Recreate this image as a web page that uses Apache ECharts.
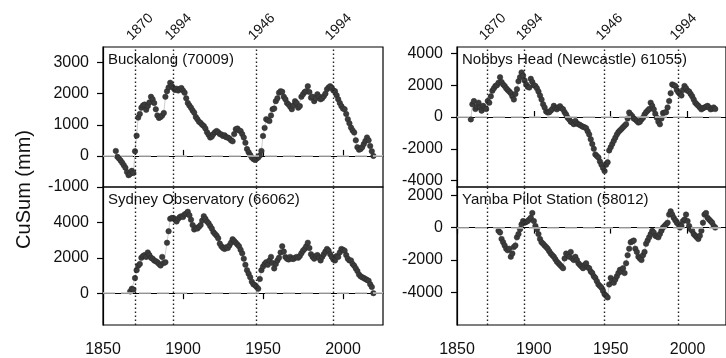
<!DOCTYPE html>
<html>
<head>
<meta charset="utf-8">
<script src="https://cdn.jsdelivr.net/npm/echarts@6/dist/echarts.min.js"></script>
<style>
html,body{margin:0;padding:0;background:#fff;}
#c{width:726px;height:358px;}
</style>
</head>
<body>
<div id="c"></div>
<script>
// Event years marked by dotted lines
const eventYears = [1870, 1894, 1946, 1994];
const xTickYears = [1850, 1900, 1950, 2000];

// Buckalong (70009), yearly CuSum from 1858
const bucStart = 1858;
const bucVals = [160,-30,-80,-150,-220,-300,-380,-520,-620,-580,-480,-550,
150,650,1230,1350,1550,1620,1650,1480,1600,1720,1900,1820,1700,1500,1300,1220,1250,1300,1380,1900,
2080,2200,2350,2250,2180,2120,2160,2100,2150,2180,2100,2030,1850,1700,1620,1550,1460,1390,1250,1180,
1100,1060,1000,960,880,760,680,590,620,700,760,800,760,700,690,640,660,600,590,560,
500,470,700,860,880,820,800,700,590,420,220,120,30,-50,-100,-130,-90,-50,10,160,
640,900,1180,1150,1120,1300,1500,1520,1760,1850,2030,2080,2060,1900,1820,1700,1650,1580,1500,1620,
1760,1700,1550,1600,1900,1980,2050,2080,2240,2050,1870,1900,1760,1850,1980,1900,1820,1850,1920,2000,
2140,2200,2240,2180,2100,2080,1950,1820,1700,1600,1520,1500,1350,1180,1050,910,820,750,500,280,
200,220,280,380,480,590,500,320,150,0];

// Sydney Observatory (66062), yearly CuSum from 1867
const sydStart = 1867;
const sydVals = [100,250,200,
850,1300,1550,1650,2000,2100,2150,2050,2300,2150,2000,1950,1850,1800,1750,1650,1560,2050,1700,1750,
2850,3500,4200,4250,4250,4150,4050,4200,4300,4350,4300,4450,4500,4600,4400,4150,3850,3600,3700,3650,
3750,3850,4100,4350,4200,4050,3950,3800,3650,3450,3350,3250,3100,2800,2650,2550,2500,2600,2550,2700,
2850,3050,2950,2850,2750,2650,2450,2250,1950,1600,1300,1100,900,650,500,450,350,250,800,1300,
1500,1650,1750,1600,1850,2050,1700,1400,1650,1850,2000,2300,2650,2350,2050,1950,1900,2050,1950,1930,
2000,2050,2000,2100,2250,2400,2500,2650,2850,2550,2200,2050,1950,2100,2150,2000,1850,2050,2200,2350,
2500,2400,2200,2050,1900,1850,2100,2050,2300,2500,2450,2400,2150,1950,1850,1850,1650,1550,1400,1250,
1050,950,900,850,800,750,700,500,350,0];

// Nobbys Head (Newcastle) 61055, yearly CuSum from 1859
const nobStart = 1859;
const nobVals = [-150,800,1000,500,650,900,600,400,700,550,500,
1000,900,1300,1650,1800,1950,2000,2150,2500,2200,2050,1950,1800,1700,1600,1500,1300,1100,1450,1750,
2250,2500,2800,2600,2300,2050,1900,1850,2400,2200,2000,1950,1800,1600,1350,1100,800,600,350,280,
300,400,500,700,550,480,600,680,550,480,300,150,-50,-150,-300,-350,-450,-250,-400,-460,
-500,-560,-620,-650,-700,-900,-1100,-1400,-1700,-2000,-2350,-2450,-2550,-2800,-3000,-3200,-3400,-3000,-2850,-2100,
-1900,-1700,-1500,-1300,-1100,-950,-850,-750,-650,-550,-450,-100,280,150,50,-100,-150,-250,-350,-300,
-150,-50,150,300,400,500,900,700,480,200,-50,-300,-460,-100,250,280,300,600,1000,1500,
2050,2000,1950,1700,1550,1450,1350,1700,1950,1800,1650,1600,1450,1300,1100,900,800,700,600,480,
550,600,650,700,600,480,520,600,500];

// Yamba Pilot Station (58012), yearly CuSum from 1877
const yamStart = 1877;
const yamVals = [-200,-300,-700,
-900,-1100,-1300,-1400,-1300,-1800,-1600,-1200,-1100,-600,
-400,-100,200,400,300,350,400,500,600,900,
400,100,-100,-400,-700,-900,-1000,-1100,-1200,-1300,
-1450,-1600,-1700,-1800,-1950,-2100,-2200,-2300,-2400,-2500,
-1900,-1600,-1700,-1800,-1500,-1900,-2000,-1800,-2000,-2200,
-2300,-2400,-2500,-2300,-2200,-2450,-2500,-2700,-2800,-3000,
-3100,-3300,-3500,-3600,-3700,-3900,-4100,-4200,-4300,-3500,
-3100,-3300,-3400,-3200,-3000,-2800,-2600,-2700,-2500,-2800,
-2200,-1700,-1300,-900,-850,-800,-1300,-1500,-1800,-1900,
-2000,-1700,-1500,-1000,-800,-600,-400,-200,-300,-500,
-550,-600,-400,-200,0,100,200,300,800,1000,
800,600,450,300,200,0,100,400,500,800,
400,100,-100,-200,-400,-500,-600,-700,-500,-200,
300,800,900,600,500,400,300,100,0];

const titles = ['Buckalong (70009)', 'Sydney Observatory (66062)', 'Nobbys Head (Newcastle) 61055)', 'Yamba Pilot Station (58012)'];
const yMins = [-1000, -1800, -4400, -6000];
const yMaxs = [3500, 6000, 4400, 2500];
const yTicks = [[-1000,0,1000,2000,3000],[0,2000,4000],[-4000,-2000,0,2000,4000],[-4000,-2000,0,2000]];

function pairs(start, vals){ return vals.map((v,i)=>[start+i, v]); }
const datasets = [pairs(bucStart,bucVals), pairs(sydStart,sydVals), pairs(nobStart,nobVals), pairs(yamStart,yamVals)];

const FONT = 'Liberation Sans, Arial, sans-serif';
const plain = v => String(v);
const grids = [
  {left:103, top:47, width:280, height:140},
  {left:103, top:187, width:280, height:140},
  {left:457, top:47, width:280, height:140},
  {left:457, top:187, width:280, height:140}
].map(g=>Object.assign(g,{show:true, borderColor:'#000', borderWidth:1.2, backgroundColor:'transparent', containLabel:false}));

const isBottom = [false,true,false,true];
const xAxes = [0,1,2,3].map(i=>({
  type:'value', gridIndex:i, min:1850, max:2025, position:'bottom',
  axisLine:{show:true, lineStyle:{color:'#000', width:1.2}},
  axisTick: isBottom[i] ? {show:true, inside:false, length:6, customValues:xTickYears, lineStyle:{color:'#000', width:1.2}}
                        : {show:true, inside:true, length:6, customValues:xTickYears.slice(1), lineStyle:{color:'#000', width:1.2}},
  axisLabel: isBottom[i] ? {show:true, customValues:xTickYears, formatter:plain, margin:17, fontSize:16, color:'#111', fontFamily:FONT}
                         : {show:false},
  splitLine:{show:false}
}));

const yAxes = [0,1,2,3].map(i=>({
  type:'value', gridIndex:i, min:yMins[i], max:yMaxs[i],
  axisLine:{show:true, lineStyle:{color:'#000', width:1.2}},
  axisTick:{show:true, length:6, customValues:yTicks[i], lineStyle:{color:'#000', width:1.2}},
  axisLabel:{show:true, customValues:yTicks[i], formatter:plain, margin:14, fontSize:16, color:'#111', fontFamily:FONT},
  splitLine:{show:false}
}));

const dotted = {color:'#222', type:[1.5,2.5], width:1.4};
const dashed = {color:'#c4c4c4', type:[12,6], width:1.5};

const series = [0,1,2,3].map(i=>({
  type:'line', xAxisIndex:i, yAxisIndex:i, data:datasets[i],
  symbol:'circle', symbolSize:5.5, showSymbol:true,
  itemStyle:{color:'#3c3c3c', borderColor:'#2a2a2a', borderWidth:0.5},
  lineStyle:{color:'#cfcfcf', width:1},
  z:3,
  markLine:{
    silent:true, symbol:['none','none'], label:{show:false}, animation:false,
    data: eventYears.map(y=>({xAxis:y, lineStyle:dotted})).concat([{yAxis:0, lineStyle:dashed}])
  }
}));

const title = titles.map((t,i)=>({
  text:t, left: grids[i].left+5, top: grids[i].top+5, padding:0,
  textStyle:{fontSize:15, fontWeight:'normal', color:'#111', fontFamily:FONT}
}));

const chart = echarts.init(document.getElementById('c'), null, {renderer:'canvas'});
chart.setOption({
  animation:false,
  backgroundColor:'#fff',
  title:title,
  grid:grids, xAxis:xAxes, yAxis:yAxes, series:series
});

// rotated event-year labels above the top panels, positioned via the x scales
const graphics = [{
  type:'text', left:14, top:130, rotation:Math.PI/2,
  style:{text:'CuSum (mm)', fontSize:20, fill:'#111', fontFamily:FONT}
}];
[0,2].forEach(ax=>{
  eventYears.forEach(y=>{
    const px = chart.convertToPixel({xAxisIndex:ax}, y);
    graphics.push({
      type:'text', x:px - 1, y:grids[ax].top - 4, rotation:Math.PI/4,
      style:{text:String(y), fontSize:14, fill:'#111', fontFamily:FONT,
        align:'left', verticalAlign:'bottom'}
    });
  });
});
chart.setOption({graphic:graphics});
</script>
</body>
</html>
